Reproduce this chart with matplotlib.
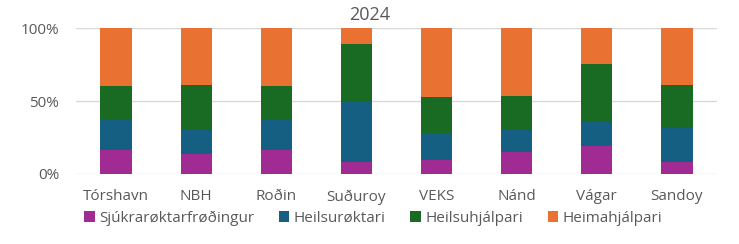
import matplotlib.pyplot as plt
import numpy as np

plt.rcParams['font.family'] = ['Open Sans', 'DejaVu Sans']

categories = ["Tórshavn", "NBH", "Roðin", "Suðuroy", "VEKS", "Nánd", "Vágar", "Sandoy"]
series_names = ["Sjúkrarøktarfrøðingur", "Heilsurøktari", "Heilsuhjálpari", "Heimahjálpari"]
sjukrar = [16.4, 13.5, 16.4, 8.0, 9.4, 15.0, 19.2, 8.4]
heilsurokt = [20.6, 16.4, 20.6, 41.0, 18.5, 15.4, 16.2, 23.3]
heilsuhjalp = [23.3, 31.1, 23.3, 39.8, 25.1, 23.0, 39.7, 29.3]
heimahjalp = [39.7, 39.0, 39.7, 11.2, 47.0, 46.6, 24.9, 39.0]
colors = ["#A02B93", "#156082", "#196B24", "#E97132"]

grey = "#595959"
fig = plt.figure(figsize=(7.39, 2.44), dpi=100)
ax = fig.add_axes([0.1028, 0.2869, 0.8675, 0.5983])

x = np.arange(len(categories))
bottom = np.zeros(len(categories))
for vals, name, col in zip([sjukrar, heilsurokt, heilsuhjalp, heimahjalp], series_names, colors):
    ax.bar(x, vals, 0.39, bottom=bottom, color=col, label=name, zorder=3)
    bottom += np.array(vals)

ax.set_xlim(-0.5, len(categories) - 0.5)
ax.set_ylim(0, 100)
ax.set_yticks([0, 50, 100])
ax.set_yticklabels(["0%", "50%", "100%"])
ax.set_xticks(x)
ax.set_xticklabels(categories)
ax.grid(axis="y", color="#D9D9D9", linewidth=1, zorder=0)
for s in ax.spines.values():
    s.set_visible(False)
ax.tick_params(axis="both", length=0, colors=grey, labelsize=11)
ax.tick_params(axis="y", pad=12)
ax.tick_params(axis="x", pad=11)

fig.text(0.5, 0.94, "2024", color=grey, fontsize=13, ha="center", va="center")

fig.legend(loc="center", bbox_to_anchor=(0.505, 0.105), ncol=4, frameon=False,
           fontsize=11, labelcolor=grey, handlelength=0.7, handleheight=0.7,
           handletextpad=0.3, columnspacing=1.6, borderaxespad=0)

fig.savefig("out.png", dpi=100)
